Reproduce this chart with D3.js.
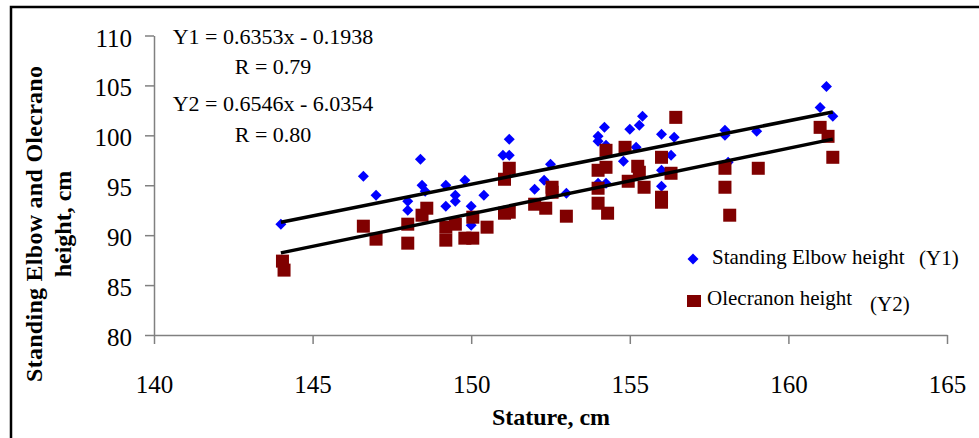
<!doctype html>
<html>
<head>
    <meta charset="utf-8">
    <style>
        body {
            margin: 0;
            background: #fff;
        }

        svg {
            display: block;
            font-family: 'Liberation Serif', 'Times New Roman', serif;
        }

        text {
            font-family: 'Liberation Serif', 'Times New Roman', serif;
            fill: #000;
        }

        .axis path,
        .axis line {
            stroke: #808080;
            stroke-width: 1.5;
        }

        .axis text {
            font-size: 25px;
        }

        text.title {
            font-size: 24px;
            font-weight: bold;
        }

        text.eq {
            font-size: 22px;
        }

        text.legend {
            font-size: 21px;
        }

        .trend {
            stroke: #000;
            stroke-width: 3.5;
            fill: none;
        }
    </style>
    <script src="https://d3js.org/d3.v7.min.js"></script>
</head>
<body>
<svg width="979" height="438"></svg>
<script>
    // Standing elbow height (Y1) : stature / height pairs
    const statureY1 = [144.0, 146.6, 147.0, 148.0, 148.0, 148.4, 148.45, 148.55, 149.2, 149.2,
        149.5, 149.5, 149.8, 150.0, 150.0, 150.4, 151.0, 151.2, 151.2, 152.0,
        152.3, 152.5, 153.0, 154.0, 154.0, 154.2, 154.25, 154.0, 154.25, 154.8,
        155.0, 155.3, 155.4, 155.2, 156.0, 156.4, 156.3, 156.0, 156.0, 158.0,
        158.0, 158.1, 159.0, 161.0, 161.2, 161.4]
    const elbowY1 = [91.1, 95.9, 94.0, 93.4, 92.5, 97.6, 95.0, 94.4, 95.0, 92.9,
        94.0, 93.4, 95.5, 92.9, 91.0, 94.0, 98.0, 98.0, 99.6, 94.6,
        95.5, 97.1, 94.2, 99.9, 99.4, 100.8, 99.0, 95.2, 95.2, 97.4,
        100.6, 101.0, 101.9, 98.8, 100.1, 99.8, 98.0, 96.5, 94.9, 100.5,
        100.0, 97.3, 100.4, 102.8, 104.9, 101.9]

    // Olecranon height (Y2)
    const statureY2 = [144.05, 144.1, 146.6, 147.0, 148.0, 148.0, 148.45, 148.6, 149.2, 149.2,
        149.5, 149.8, 150.05, 150.05, 150.5, 151.05, 151.2, 151.05, 151.2, 152.0,
        152.35, 152.55, 152.55, 153.0, 154.0, 154.0, 154.0, 154.25, 154.25, 154.3,
        154.85, 154.95, 155.25, 155.3, 155.45, 156.0, 156.0, 156.0, 156.3, 156.45,
        158.0, 158.0, 158.15, 159.05, 161.0, 161.25, 161.4]
    const olecranonY2 = [87.4, 86.5, 90.9, 89.6, 91.1, 89.2, 92.0, 92.7, 90.8, 89.5,
        91.1, 89.7, 89.7, 91.8, 90.8, 95.6, 96.7, 92.2, 92.3, 93.1,
        92.7, 94.8, 94.3, 91.9, 96.5, 94.7, 93.2, 98.5, 96.8, 92.2,
        98.8, 95.4, 96.9, 96.3, 94.8, 97.8, 93.8, 93.3, 96.2, 101.8,
        96.7, 94.8, 92.0, 96.7, 100.8, 99.9, 97.8]

    // trendlines: slope, intercept
    const fitY1 = [0.6353, -0.1938]
    const fitY2 = [0.6546, -6.0354]

    const xTicks = [140, 145, 150, 155, 160, 165]
    const yTicks = [80, 85, 90, 95, 100, 105, 110]

    const eqLines = ['Y1 = 0.6353x - 0.1938', 'R = 0.79', 'Y2 = 0.6546x - 6.0354', 'R = 0.80']

    const serif = "'Liberation Serif', 'Times New Roman', serif"

    const svg = d3.select('svg')

    // outer frame (right and bottom edges fall off the picture)
    svg.append('rect')
        .attr('x', 11).attr('y', 7)
        .attr('width', 990).attr('height', 450)
        .attr('fill', 'none')
        .attr('stroke', '#000')
        .attr('stroke-width', 2.5)

    const x = d3.scaleLinear().domain([140, 165]).range([154, 947])
    const y = d3.scaleLinear().domain([80, 110]).range([335, 35.5])

    svg.append('g')
        .attr('class', 'axis')
        .attr('transform', 'translate(0, 335)')
        .call(d3.axisBottom(x).tickValues(xTicks).tickSize(9).tickSizeOuter(0).tickPadding(31))
        .attr('font-family', serif)
        .attr('font-size', null)

    svg.append('g')
        .attr('class', 'axis')
        .attr('transform', 'translate(154, 0)')
        .call(d3.axisLeft(y).tickValues(yTicks).tickSize(9).tickSizeOuter(0).tickPadding(13))
        .attr('font-family', serif)
        .attr('font-size', null)
        .call(g => g.selectAll('text').attr('dy', '0.42em'))

    const pts1 = statureY1.map((s, i) => ({ s: s, v: elbowY1[i] }))
    const pts2 = statureY2.map((s, i) => ({ s: s, v: olecranonY2[i] }))

    const diamond = 'M0,-5.5L5.5,0L0,5.5L-5.5,0Z'

    svg.append('g').selectAll('path')
        .data(pts1)
        .enter()
        .append('path')
        .attr('d', diamond)
        .attr('fill', '#0000ff')
        .attr('transform', d => `translate(${x(d.s)}, ${y(d.v)})`)

    svg.append('g').selectAll('rect')
        .data(pts2)
        .enter()
        .append('rect')
        .attr('x', d => x(d.s) - 6.5)
        .attr('y', d => y(d.v) - 6.5)
        .attr('width', 13)
        .attr('height', 13)
        .attr('fill', '#800000')

    // linear trendlines over the stature range
    const xr = d3.extent(statureY1.concat(statureY2))
    const trend = (f) => xr.map(v => [x(v), y(f[0] * v + f[1])])

    svg.append('path').attr('class', 'trend').attr('d', d3.line()(trend(fitY1)))
    svg.append('path').attr('class', 'trend').attr('d', d3.line()(trend(fitY2)))

    // equations
    const eqY = [44, 73.5, 111, 141.5]
    eqLines.forEach((t, i) => {
        svg.append('text')
            .attr('class', 'eq')
            .attr('x', 273)
            .attr('y', eqY[i])
            .attr('text-anchor', 'middle')
            .text(t)
    })

    // legend
    svg.append('path')
        .attr('d', diamond)
        .attr('fill', '#0000ff')
        .attr('transform', 'translate(693, 259)')
    svg.append('text').attr('class', 'legend').attr('font-family', serif).attr('x', 712).attr('y', 264).text('Standing Elbow height')
    svg.append('text').attr('class', 'legend').attr('font-family', serif).attr('x', 919).attr('y', 265).text('(Y1)')

    svg.append('rect')
        .attr('x', 687).attr('y', 295)
        .attr('width', 14).attr('height', 12)
        .attr('fill', '#800000')
    svg.append('text').attr('class', 'legend').attr('font-family', serif).attr('x', 707).attr('y', 305).text('Olecranon height')
    svg.append('text').attr('class', 'legend').attr('font-family', serif).attr('x', 870).attr('y', 311).text('(Y2)')

    // axis titles
    svg.append('text')
        .attr('class', 'title')
        .attr('x', 551)
        .attr('y', 425)
        .attr('text-anchor', 'middle')
        .text('Stature, cm')

    const yt = svg.append('text')
        .attr('class', 'title')
        .attr('text-anchor', 'middle')
        .attr('transform', 'translate(42, 224) rotate(-90)')
    yt.append('tspan').attr('x', 0).attr('y', 0).attr('textLength', 316).text('Standing Elbow and Olecrano')
    yt.append('tspan').attr('x', 0).attr('y', 29).text('height, cm')
</script>
</body>
</html>
